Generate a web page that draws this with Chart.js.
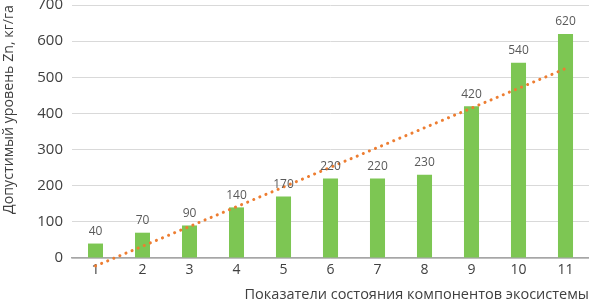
<!DOCTYPE html>
<html>
<head>
<meta charset="utf-8">
<script src="https://cdn.jsdelivr.net/npm/chart.js@4/dist/chart.umd.min.js"></script>
<style>
  html, body { margin:0; padding:0; background:#fff; }
  #wrap { width:589px; height:304px; }
</style>
</head>
<body>
<div id="wrap"><canvas id="zincChart" width="589" height="304"></canvas></div>
<script>
const categories = ['1','2','3','4','5','6','7','8','9','10','11'];
const zincLevels = [40, 70, 90, 140, 170, 220, 220, 230, 420, 540, 620];
// linear trend, end points
const trendLine = [-22, null, null, null, null, null, null, null, null, null, 524];
const yTicks = [0, 100, 200, 300, 400, 500, 600, 700];

const FONT = '"Open Sans", "DejaVu Sans", sans-serif';

const barLabels = {
  id: 'barLabels',
  afterDatasetsDraw(chart) {
    const ctx = chart.ctx;
    const meta = chart.getDatasetMeta(0);
    ctx.save();
    ctx.font = '12px ' + FONT;
    ctx.fillStyle = '#595959';
    ctx.textAlign = 'center';
    ctx.textBaseline = 'bottom';
    meta.data.forEach((bar, i) => {
      ctx.fillText(String(zincLevels[i]), bar.x, bar.y - 6);
    });
    ctx.restore();
  }
};

new Chart(document.getElementById('zincChart').getContext('2d'), {
  data: {
    labels: categories,
    datasets: [
      {
        type: 'bar',
        data: zincLevels,
        backgroundColor: '#7dc653',
        barPercentage: 0.32,
        categoryPercentage: 1,
        order: 2
      },
      {
        type: 'line',
        data: trendLine,
        spanGaps: true,
        clip: false,
        borderColor: '#ed7d31',
        borderWidth: 3,
        borderDash: [0.1, 6.5],
        borderCapStyle: 'round',
        pointRadius: 0,
        fill: false,
        order: 1
      }
    ]
  },
  options: {
    responsive: false,
    animation: false,
    layout: { padding: { top: 5, right: 0, left: 0, bottom: 0 } },
    plugins: { legend: { display: false }, tooltip: { enabled: false } },
    scales: {
      x: {
        grid: { display: false, drawTicks: false },
        border: { display: true, color: '#a6a6a6', width: 1.5 },
        ticks: { color: '#404040', font: { family: FONT, size: 14 }, padding: 4 },
        title: {
          display: true,
          align: 'end',
          text: 'Показатели состояния компонентов экосистемы',
          color: '#404040',
          font: { family: FONT, size: 14.5 },
          padding: { top: 2, bottom: 0 }
        },
        afterFit(scale) { scale.height = 46; scale.paddingLeft = 0; scale.paddingRight = 0; }
      },
      y: {
        min: 0,
        max: 700,
        afterBuildTicks(scale) { scale.ticks = yTicks.map(v => ({ value: v })); },
        grid: { color: '#d9d9d9', drawTicks: false },
        border: { display: false },
        ticks: { color: '#404040', font: { family: FONT, size: 15 }, padding: 9 },
        title: {
          display: true,
          align: 'end',
          text: 'Допустимый уровень Zn, кг/га',
          color: '#404040',
          font: { family: FONT, size: 14.2 },
          padding: { top: 0, bottom: 2 }
        },
        afterFit(scale) { scale.width = 72; scale.paddingTop = 0; scale.paddingBottom = 0; }
      }
    }
  },
  plugins: [barLabels]
});
</script>
</body>
</html>
